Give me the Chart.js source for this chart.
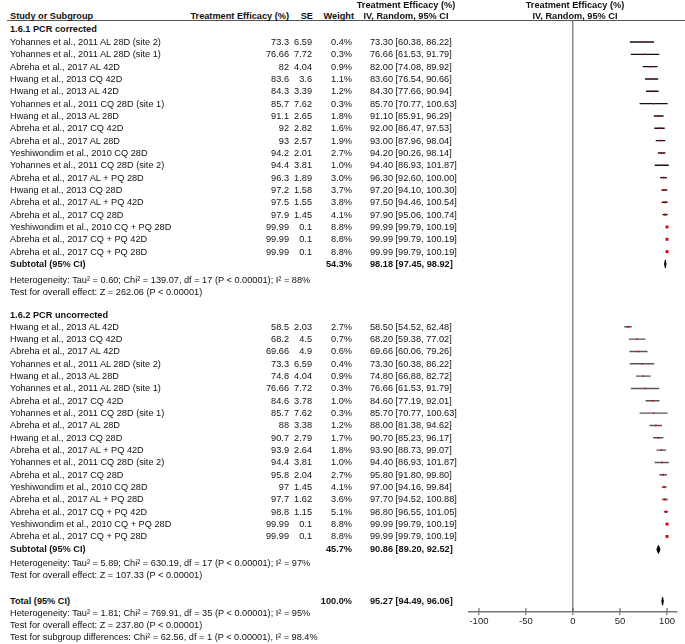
<!DOCTYPE html>
<html>
<head>
<meta charset="utf-8">
<script src="https://cdn.jsdelivr.net/npm/chart.js@4.4.0/dist/chart.umd.min.js"></script>
<style>
body{margin:0;background:#fff;}
#wrap{position:relative;width:685px;height:644px;overflow:hidden;background:#fff;
  font-family:"Liberation Sans",Arial,sans-serif;font-size:9.2px;color:#111;}
.t{position:absolute;white-space:nowrap;line-height:12px;height:12px;}
.b{font-weight:bold;}
#hline{position:absolute;left:7px;top:20px;width:678px;height:0;border-top:1.5px solid #555;}
#plot{position:absolute;left:440px;top:0;}
</style>
</head>
<body>
<div id="wrap">
  <div id="hline"></div>
  <canvas id="plot" width="245" height="644"></canvas>
</div>
<script>
// 1.6.1 PCR corrected
const estudos1 = ['Yohannes et al., 2011 AL 28D (site 2)', 'Yohannes et al., 2011 AL 28D (site 1)', 'Abreha et al., 2017 AL 42D',
  'Hwang et al., 2013 CQ 42D', 'Hwang et al., 2013 AL 42D', 'Yohannes et al., 2011 CQ 28D (site 1)', 'Hwang et al., 2013 AL 28D',
  'Abreha et al., 2017 CQ 42D', 'Abreha et al., 2017 AL 28D', 'Yeshiwondim et al., 2010 CQ 28D', 'Yohannes et al., 2011 CQ 28D (site 2)',
  'Abreha et al., 2017 AL + PQ 28D', 'Hwang et al., 2013 CQ 28D', 'Abreha et al., 2017 AL + PQ 42D', 'Abreha et al., 2017 CQ 28D',
  'Yeshiwondim et al., 2010 CQ + PQ 28D', 'Abreha et al., 2017 CQ + PQ 42D', 'Abreha et al., 2017 CQ + PQ 28D'];
const efic1 = [73.3, 76.66, 82, 83.6, 84.3, 85.7, 91.1, 92, 93, 94.2, 94.4, 96.3, 97.2, 97.5, 97.9, 99.99, 99.99, 99.99];
const se1 = [6.59, 7.72, 4.04, 3.6, 3.39, 7.62, 2.65, 2.82, 2.57, 2.01, 3.81, 1.89, 1.58, 1.55, 1.45, 0.1, 0.1, 0.1];
const peso1 = [0.4, 0.3, 0.9, 1.1, 1.2, 0.3, 1.8, 1.6, 1.9, 2.7, 1.0, 3.0, 3.7, 3.8, 4.1, 8.8, 8.8, 8.8];
const inf1 = [60.38, 61.53, 74.08, 76.54, 77.66, 70.77, 85.91, 86.47, 87.96, 90.26, 86.93, 92.60, 94.10, 94.46, 95.06, 99.79, 99.79, 99.79];
const sup1 = [86.22, 91.79, 89.92, 90.66, 90.94, 100.63, 96.29, 97.53, 98.04, 98.14, 101.87, 100.00, 100.30, 100.54, 100.74, 100.19, 100.19, 100.19];

// 1.6.2 PCR uncorrected
const estudos2 = ['Hwang et al., 2013 AL 42D', 'Hwang et al., 2013 CQ 42D', 'Abreha et al., 2017 AL 42D', 'Yohannes et al., 2011 AL 28D (site 2)',
  'Hwang et al., 2013 AL 28D', 'Yohannes et al., 2011 AL 28D (site 1)', 'Abreha et al., 2017 CQ 42D', 'Yohannes et al., 2011 CQ 28D (site 1)',
  'Abreha et al., 2017 AL 28D', 'Hwang et al., 2013 CQ 28D', 'Abreha et al., 2017 AL + PQ 42D', 'Yohannes et al., 2011 CQ 28D (site 2)',
  'Abreha et al., 2017 CQ 28D', 'Yeshiwondim et al., 2010 CQ 28D', 'Abreha et al., 2017 AL + PQ 28D', 'Abreha et al., 2017 CQ + PQ 42D',
  'Yeshiwondim et al., 2010 CQ + PQ 28D', 'Abreha et al., 2017 CQ + PQ 28D'];
const efic2 = [58.5, 68.2, 69.66, 73.3, 74.8, 76.66, 84.6, 85.7, 88, 90.7, 93.9, 94.4, 95.8, 97, 97.7, 98.8, 99.99, 99.99];
const se2 = [2.03, 4.5, 4.9, 6.59, 4.04, 7.72, 3.78, 7.62, 3.38, 2.79, 2.64, 3.81, 2.04, 1.45, 1.62, 1.15, 0.1, 0.1];
const peso2 = [2.7, 0.7, 0.6, 0.4, 0.9, 0.3, 1.0, 0.3, 1.2, 1.7, 1.8, 1.0, 2.7, 4.1, 3.6, 5.1, 8.8, 8.8];
const inf2 = [54.52, 59.38, 60.06, 60.38, 66.88, 61.53, 77.19, 70.77, 81.38, 85.23, 88.73, 86.93, 91.80, 94.16, 94.52, 96.55, 99.79, 99.79];
const sup2 = [62.48, 77.02, 79.26, 86.22, 82.72, 91.79, 92.01, 100.63, 94.62, 96.17, 99.07, 101.87, 99.80, 99.84, 100.88, 101.05, 100.19, 100.19];

// subtotal 1, subtotal 2, total
const resumoPeso = [54.3, 45.7, 100.0];
const resumoEst = [98.18, 90.86, 95.27];
const resumoInf = [97.45, 89.20, 94.49];
const resumoSup = [98.92, 92.52, 96.06];

const xTicks = [-100, -50, 0, 50, 100];

// posicao das linhas (em unidades de linha)
const ROW0 = 42, ROW_H = 12.33;
const G2 = 23.1;
const linhaResumo = [18, 41.15, 45.35];
const py = r => ROW0 + ROW_H * r;

const wrap = document.getElementById('wrap');
function txt(s, x, y, align, bold) {
  const d = document.createElement('div');
  d.className = 't' + (bold ? ' b' : '');
  d.textContent = s;
  d.style.top = (y - 6) + 'px';
  if (align === 'right') d.style.right = (685 - x) + 'px';
  else if (align === 'center') { d.style.left = x + 'px'; d.style.transform = 'translateX(-50%)'; }
  else d.style.left = x + 'px';
  wrap.appendChild(d);
}
const ic = (e, l, h) => `${e.toFixed(2)} [${l.toFixed(2)}, ${h.toFixed(2)}]`;

// cabecalho
txt('Study or Subgroup', 10, 16, 'left', true);
txt('Treatment Efficacy (%)', 289, 16, 'right', true);
txt('SE', 313, 16, 'right', true);
txt('Weight', 354, 16, 'right', true);
txt('Treatment Efficacy (%)', 406, 5, 'center', true);
txt('IV, Random, 95% CI', 406, 16, 'center', true);
txt('Treatment Efficacy (%)', 575, 5, 'center', true);
txt('IV, Random, 95% CI', 575, 16, 'center', true);

function grupo(nomes, ef, se, peso, lo, hi, base) {
  nomes.forEach((n, i) => {
    const y = py(base + i);
    txt(n, 10, y);
    txt(String(ef[i]), 289, y, 'right');
    txt(String(se[i]), 312, y, 'right');
    txt(peso[i].toFixed(1) + '%', 352, y, 'right');
    txt(ic(ef[i], lo[i], hi[i]), 370, y);
  });
}

txt('1.6.1 PCR corrected', 10, py(-1.05), 'left', true);
grupo(estudos1, efic1, se1, peso1, inf1, sup1, 0);
txt('Subtotal (95% CI)', 10, py(18), 'left', true);
txt(resumoPeso[0].toFixed(1) + '%', 352, py(18), 'right', true);
txt(ic(resumoEst[0], resumoInf[0], resumoSup[0]), 370, py(18), 'left', true);
txt('Heterogeneity: Tau² = 0.60; Chi² = 139.07, df = 17 (P < 0.00001); I² = 88%', 10, py(19.3));
txt('Test for overall effect: Z = 262.06 (P < 0.00001)', 10, py(20.27));

txt('1.6.2 PCR uncorrected', 10, py(22.15), 'left', true);
grupo(estudos2, efic2, se2, peso2, inf2, sup2, G2);
txt('Subtotal (95% CI)', 10, py(41.15), 'left', true);
txt(resumoPeso[1].toFixed(1) + '%', 352, py(41.15), 'right', true);
txt(ic(resumoEst[1], resumoInf[1], resumoSup[1]), 370, py(41.15), 'left', true);
txt('Heterogeneity: Tau² = 5.89; Chi² = 630.19, df = 17 (P < 0.00001); I² = 97%', 10, py(42.25));
txt('Test for overall effect: Z = 107.33 (P < 0.00001)', 10, py(43.22));

txt('Total (95% CI)', 10, py(45.35), 'left', true);
txt(resumoPeso[2].toFixed(1) + '%', 352, py(45.35), 'right', true);
txt(ic(resumoEst[2], resumoInf[2], resumoSup[2]), 370, py(45.35), 'left', true);
txt('Heterogeneity: Tau² = 1.81; Chi² = 769.91, df = 35 (P < 0.00001); I² = 95%', 10, py(46.33));
txt('Test for overall effect: Z = 237.80 (P < 0.00001)', 10, py(47.3));
txt('Test for subgroup differences: Chi² = 62.56, df = 1 (P < 0.00001), I² = 98.4%', 10, py(48.27));

// dados do grafico
function segmentos(lo, hi, base) {
  const d = [];
  lo.forEach((l, i) => { d.push({x: l, y: base + i}, {x: hi[i], y: base + i}, {x: null, y: null}); });
  return d;
}
const pontos = (ef, base) => ef.map((v, i) => ({x: v, y: base + i}));
const raio = p => p.map(w => 1.0 + w * 0.12);

const diamantes = {
  id: 'diamantes',
  afterDatasetsDraw(chart) {
    const {ctx, scales: {x, y}} = chart;
    ctx.save();
    ctx.fillStyle = '#000';
    ctx.strokeStyle = '#000';
    ctx.lineWidth = 1;
    resumoEst.forEach((e, i) => {
      const yc = y.getPixelForValue(linhaResumo[i]);
      ctx.beginPath();
      ctx.moveTo(x.getPixelForValue(resumoInf[i]), yc);
      ctx.lineTo(x.getPixelForValue(e), yc - 4);
      ctx.lineTo(x.getPixelForValue(resumoSup[i]), yc);
      ctx.lineTo(x.getPixelForValue(e), yc + 4);
      ctx.closePath();
      ctx.fill();
      ctx.stroke();
    });
    // marcas do eixo (sobem a partir da linha do eixo)
    ctx.strokeStyle = '#555';
    const yb = chart.chartArea.bottom;
    xTicks.forEach(v => {
      const xp = x.getPixelForValue(v);
      ctx.beginPath();
      ctx.moveTo(xp, yb - 4);
      ctx.lineTo(xp, yb);
      ctx.stroke();
    });
    ctx.restore();
  }
};

new Chart(document.getElementById('plot'), {
  type: 'scatter',
  data: {
    datasets: [
      { data: segmentos(inf1, sup1, 0), order: 2, showLine: true, spanGaps: false, borderColor: '#111', borderWidth: 1.4, pointRadius: 0 },
      { data: segmentos(inf2, sup2, G2), order: 2, showLine: true, spanGaps: false, borderColor: '#555', borderWidth: 1.4, pointRadius: 0 },
      { data: pontos(efic1, 0), order: 1, pointStyle: 'rect', pointRadius: raio(peso1), backgroundColor: '#e00000', borderWidth: 0 },
      { data: pontos(efic2, G2), order: 1, pointStyle: 'rect', pointRadius: raio(peso2), backgroundColor: '#e00000', borderWidth: 0 }
    ]
  },
  options: {
    responsive: false,
    animation: false,
    layout: { padding: { top: 21, left: 29, right: 8, bottom: 0 } },
    plugins: { legend: { display: false }, tooltip: { enabled: false } },
    scales: {
      x: {
        type: 'linear', min: -110.6, max: 110.6,
        afterBuildTicks: s => { s.ticks = xTicks.map(v => ({value: v})); },
        afterFit: s => { s.height = 32; },
        grid: {
          color: c => (c.tick && c.tick.value === 0) ? '#8a8a8a' : 'rgba(0,0,0,0)',
          lineWidth: 1.5, drawTicks: true, tickLength: 3, tickColor: '#555', tickWidth: 1
        },
        border: { color: '#777', width: 1.5 },
        ticks: { color: '#222', font: { family: 'Liberation Sans', size: 9.5 }, padding: 1, maxRotation: 0 }
      },
      y: {
        type: 'linear', display: false, reverse: true,
        min: (21 - ROW0) / ROW_H, max: (612 - ROW0) / ROW_H
      }
    }
  },
  plugins: [diamantes]
});
</script>
</body>
</html>
